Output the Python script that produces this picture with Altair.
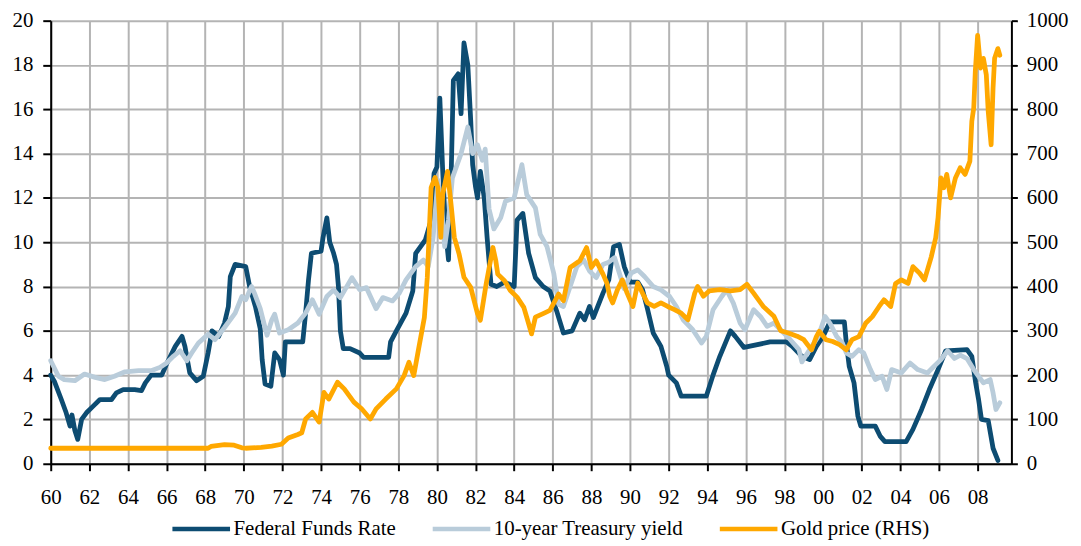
import altair as alt
import pandas as pd

# ---------------- data ----------------
ff_year = [1960.0, 1960.2, 1960.55, 1960.8, 1961.0, 1961.1, 1961.25, 1961.4, 1961.6, 1961.85,
           1962.2, 1962.55, 1963.15, 1963.4, 1963.75, 1964.35, 1964.7, 1964.9, 1965.2, 1965.75,
           1966.0, 1966.45, 1966.8, 1966.95, 1967.2, 1967.55, 1967.9, 1968.15, 1968.35, 1968.7,
           1969.0, 1969.2, 1969.3, 1969.55, 1970.1, 1970.3, 1970.6, 1970.85, 1970.95, 1971.1,
           1971.4, 1971.6, 1971.85, 1972.05, 1972.15, 1973.05, 1973.2, 1973.35, 1973.5, 1974.0,
           1974.1, 1974.3, 1974.45, 1974.65, 1974.8, 1974.9, 1975.0, 1975.15, 1975.5, 1976.0,
           1976.2, 1977.5, 1977.6, 1977.9, 1978.4, 1978.75, 1978.9, 1979.4, 1979.7, 1979.85,
           1980.0, 1980.15, 1980.3, 1980.45, 1980.6, 1980.75, 1980.85, 1981.1, 1981.25, 1981.4,
           1981.6, 1981.75, 1981.85, 1982.0, 1982.1, 1982.25, 1982.45, 1982.6, 1982.8, 1983.1,
           1983.5, 1984.0, 1984.15, 1984.45, 1984.75, 1985.1, 1985.5, 1985.85, 1986.2, 1986.55,
           1987.0, 1987.4, 1987.65, 1987.9, 1988.1, 1988.6, 1988.9, 1989.15, 1989.45, 1989.7,
           1990.0, 1990.4, 1990.65, 1990.9, 1991.2, 1991.6, 1991.9, 1992.0, 1992.4, 1992.65,
           1993.95, 1994.3, 1994.65, 1995.2, 1995.45, 1995.9, 1997.25, 1998.1, 1998.4, 1998.9,
           1999.3, 1999.65, 2000.0, 2000.35, 2001.1, 2001.2, 2001.35, 2001.6, 2001.8, 2001.95,
           2002.7, 2002.95, 2003.2, 2004.3, 2004.65, 2005.1, 2005.5, 2005.95, 2006.35, 2007.45,
           2007.7, 2007.9, 2008.05, 2008.2, 2008.55, 2008.8, 2009.05]
ff_rate = [4.0, 3.7, 2.9, 2.3, 1.7, 2.2, 1.5, 1.1, 2.0, 2.3,
           2.6, 2.9, 2.9, 3.2, 3.35, 3.35, 3.3, 3.65, 4.0, 4.0,
           4.5, 5.3, 5.75, 5.3, 4.1, 3.75, 3.95, 5.0, 6.0, 5.75,
           6.35, 7.1, 8.45, 9.0, 8.9, 8.0, 7.1, 6.1, 4.7, 3.6,
           3.5, 5.0, 4.7, 4.0, 5.5, 5.5, 6.8, 8.3, 9.5, 9.6,
           10.2, 11.1, 10.0, 9.5, 9.0, 8.0, 6.0, 5.2, 5.2, 5.0,
           4.8, 4.8, 5.5, 6.0, 6.8, 7.8, 9.5, 10.1, 11.0, 13.1,
           13.4, 16.5, 13.2, 10.5, 9.2, 13.5, 17.3, 17.6, 15.8, 19.0,
           18.0, 15.5, 13.5, 12.5, 12.0, 13.2, 12.0, 10.2, 8.1, 8.0,
           8.2, 8.0, 11.0, 11.3, 9.5, 8.4, 8.0, 7.8, 6.9, 5.9,
           6.0, 6.8, 6.5, 7.1, 6.6, 7.7, 8.3, 9.8, 9.9, 8.9,
           8.2, 8.2, 7.85, 7.0, 5.9, 5.3, 4.4, 4.0, 3.65, 3.05,
           3.05, 4.0, 4.85, 6.0, 5.75, 5.25, 5.5, 5.5, 5.3, 4.85,
           4.7, 5.3, 5.75, 6.4, 6.4, 5.45, 4.4, 3.65, 2.15, 1.7,
           1.7, 1.25, 1.0, 1.0, 1.55, 2.45, 3.35, 4.25, 5.1, 5.15,
           4.85, 3.65, 2.9, 2.0, 1.95, 0.7, 0.15]

ty_year = [1960.0, 1960.4, 1960.7, 1961.25, 1961.75, 1962.3, 1962.8, 1963.3, 1963.85, 1964.55,
           1965.2, 1965.65, 1966.0, 1966.35, 1966.7, 1967.05, 1967.3, 1967.65, 1968.15, 1968.5,
           1969.0, 1969.55, 1969.9, 1970.1, 1970.4, 1970.55, 1970.85, 1971.2, 1971.45, 1971.6,
           1971.85, 1972.3, 1972.8, 1973.2, 1973.55, 1973.9, 1974.3, 1974.65, 1975.0, 1975.6,
           1976.0, 1976.35, 1976.85, 1977.2, 1977.7, 1978.05, 1978.4, 1978.9, 1979.3, 1979.55,
           1979.8, 1980.05, 1980.25, 1980.4, 1980.6, 1980.8, 1981.25, 1981.6, 1981.85, 1982.1,
           1982.35, 1982.5, 1982.7, 1982.95, 1983.3, 1983.55, 1984.0, 1984.4, 1984.65, 1985.1,
           1985.35, 1985.7, 1986.05, 1986.3, 1986.55, 1986.9, 1987.25, 1987.6, 1987.9, 1988.25,
           1988.6, 1988.9, 1989.2, 1989.45, 1989.7, 1990.05, 1990.4, 1990.75, 1991.2, 1991.6,
           1992.05, 1992.4, 1992.75, 1993.25, 1993.7, 1993.95, 1994.3, 1994.75, 1995.0, 1995.35,
           1995.7, 1995.95, 1996.4, 1996.75, 1997.1, 1997.45, 1997.8, 1998.3, 1998.75, 1998.9,
           1999.3, 1999.75, 2000.1, 2000.35, 2000.7, 2001.0, 2001.2, 2001.5, 2001.85, 2002.1,
           2002.45, 2002.7, 2003.05, 2003.3, 2003.55, 2004.05, 2004.5, 2004.9, 2005.4, 2005.75,
           2006.1, 2006.45, 2006.8, 2007.1, 2007.45, 2007.8, 2008.05, 2008.3, 2008.65, 2008.8,
           2008.95, 2009.15]
ty_yield = [4.65, 3.95, 3.8, 3.75, 4.05, 3.9, 3.8, 3.95, 4.15, 4.2,
            4.2, 4.35, 4.55, 4.85, 5.1, 4.65, 5.0, 5.45, 5.85, 5.6,
            6.15, 6.8, 7.55, 7.4, 8.0, 7.7, 7.0, 5.8, 6.5, 6.75,
            5.9, 6.05, 6.35, 6.8, 7.4, 6.75, 7.55, 7.85, 7.5, 8.4,
            7.85, 7.95, 7.0, 7.5, 7.35, 7.7, 8.3, 8.9, 9.2, 8.9,
            10.2, 12.8, 11.5, 9.8, 11.0, 12.9, 14.0, 15.2, 14.0, 14.4,
            13.7, 14.2, 11.5, 10.6, 11.1, 11.85, 12.0, 13.5, 12.15, 11.55,
            10.35, 9.8, 8.6, 7.2, 7.1, 8.0, 8.9, 9.2, 8.7, 8.4,
            9.0, 9.1, 9.3, 8.6, 7.9, 8.6, 8.75, 8.45, 8.0, 7.85,
            7.55, 7.1, 6.5, 6.05, 5.45, 5.75, 6.95, 7.55, 7.85, 7.25,
            6.35, 6.05, 6.95, 6.65, 6.2, 6.35, 6.05, 5.6, 5.15, 4.6,
            5.15, 5.75, 6.65, 6.35, 5.75, 5.45, 5.0, 4.85, 5.15, 5.0,
            4.25, 3.8, 3.95, 3.35, 4.25, 4.1, 4.55, 4.25, 4.1, 4.4,
            4.7, 5.1, 4.75, 4.9, 4.75, 4.25, 3.95, 3.65, 3.8, 3.2,
            2.45, 2.75]

gold_year = [1960.0, 1968.15, 1968.3, 1968.6, 1969.0, 1969.5, 1969.9, 1970.1, 1970.9, 1971.45,
             1971.95, 1972.3, 1972.8, 1973.0, 1973.2, 1973.55, 1973.9, 1974.15, 1974.4, 1974.85,
             1975.2, 1975.7, 1976.1, 1976.55, 1976.85, 1977.35, 1977.9, 1978.3, 1978.55, 1978.8,
             1979.05, 1979.35, 1979.5, 1979.7, 1979.9, 1980.05, 1980.2, 1980.3, 1980.55, 1980.75,
             1980.9, 1981.15, 1981.4, 1981.75, 1982.1, 1982.25, 1982.55, 1982.9, 1983.05, 1983.15,
             1983.5, 1983.8, 1984.15, 1984.5, 1984.75, 1984.9, 1985.1, 1985.5, 1985.85, 1986.3,
             1986.55, 1986.9, 1987.4, 1987.75, 1988.0, 1988.25, 1988.6, 1988.8, 1988.95, 1989.1,
             1989.35, 1989.6, 1989.85, 1990.15, 1990.4, 1990.65, 1990.9, 1991.25, 1991.6, 1991.95,
             1992.3, 1992.65, 1993.0, 1993.35, 1993.5, 1993.8, 1994.1, 1994.65, 1995.2, 1995.7,
             1996.05, 1996.4, 1996.9, 1997.45, 1997.8, 1998.2, 1998.65, 1999.0, 1999.4, 1999.65,
             1999.8, 2000.15, 2000.5, 2000.85, 2001.2, 2001.5, 2001.85, 2002.2, 2002.55, 2002.9,
             2003.15, 2003.5, 2003.75, 2004.05, 2004.4, 2004.65, 2005.0, 2005.25, 2005.6, 2005.83,
             2005.95, 2006.1, 2006.25, 2006.4, 2006.6, 2006.85, 2007.1, 2007.35, 2007.6, 2007.7,
             2007.8, 2007.88, 2008.0, 2008.15, 2008.3, 2008.45, 2008.55, 2008.7, 2008.8, 2008.88,
             2009.05, 2009.15]
gold_price = [35, 35, 39, 41, 43, 42, 36, 35, 37, 40,
              44, 58, 66, 70, 101, 116, 94, 161, 146, 184,
              169, 139, 124, 101, 124, 146, 169, 199, 229, 199,
              259, 330, 420, 623, 646, 623, 511, 608, 660, 578,
              511, 473, 421, 398, 339, 324, 406, 488, 458, 428,
              413, 391, 376, 353, 316, 293, 331, 339, 346, 383,
              368, 443, 458, 488, 443, 458, 428, 408, 378, 363,
              393, 415, 385, 355, 408, 385, 363, 355, 363, 355,
              348, 340, 325, 385, 400, 378, 390, 393, 390, 393,
              405, 385, 355, 333, 300, 295, 288, 280, 257, 287,
              299, 280, 276, 269, 257, 280, 287, 317, 332, 355,
              370, 355, 407, 415, 407, 445, 430, 415, 467, 510,
              555, 645, 623, 653, 600, 645, 668, 653, 683, 773,
              803, 885, 967, 893, 915, 878, 795, 720, 848, 915,
              937, 922]

series_names = ["Federal Funds Rate", "10-year Treasury yield", "Gold price (RHS)"]
series_colors = ["#0D4C72", "#B9CCDA", "#FFA800"]
x_ticks = list(range(1960, 2009, 2))
left_ticks = list(range(0, 21, 2))
right_ticks = list(range(0, 1001, 100))

df_ff = pd.DataFrame({"year": ff_year, "value": ff_rate, "series": series_names[0]})
df_ty = pd.DataFrame({"year": ty_year, "value": ty_yield, "series": series_names[1]})
df_gold = pd.DataFrame({"year": gold_year, "value": gold_price, "series": series_names[2]})

FONT = "Liberation Serif"
GRID = "#B4B4B4"

color = alt.Color(
    "series:N",
    scale=alt.Scale(domain=series_names, range=series_colors),
    legend=alt.Legend(
        title=None, orient="none", direction="horizontal",
        legendX=120, legendY=480,
        symbolType="stroke", symbolSize=3364, symbolStrokeWidth=4.5,
        labelFont=FONT, labelFontSize=21, labelColor="black", labelLimit=0,
        labelOffset=1, columnPadding=27, padding=0,
    ),
)

x_scale = alt.Scale(domain=[1960, 2009.75], nice=False, zero=False)
x_axis = alt.Axis(
    values=x_ticks, labelExpr="substring(toString(datum.value), 2, 4)", title=None,
    grid=True, gridColor=GRID, gridWidth=2,
    domainColor="black", domainWidth=2, tickColor="black", tickWidth=2, tickSize=7,
    labelFont=FONT, labelFontSize=21, labelColor="black", labelPadding=16,
    labelFlush=False, labelOverlap=False,
)
x_enc = alt.X("year:Q", scale=x_scale, axis=x_axis)

left_scale = alt.Scale(domain=[0, 20], nice=False)
left_axis = alt.Axis(
    values=left_ticks, title=None, orient="left",
    grid=True, gridColor=GRID, gridWidth=2,
    domainColor="black", domainWidth=2, tickColor="black", tickWidth=2, tickSize=8,
    labelFont=FONT, labelFontSize=21, labelColor="black", labelPadding=10,
    labelFlush=False, labelOverlap=False,
)
right_axis = alt.Axis(
    values=right_ticks, title=None, orient="right", grid=False, format="d",
    domainColor="black", domainWidth=2, tickColor="black", tickWidth=2, tickSize=6,
    labelFont=FONT, labelFontSize=21, labelColor="black", labelPadding=9,
    labelFlush=False, labelOverlap=False,
)

line_style = dict(strokeWidth=4.8, strokeJoin="round", strokeCap="round")
y_left = alt.Y("value:Q", scale=left_scale, axis=left_axis)

ff_line = alt.Chart(df_ff).mark_line(**line_style).encode(x=x_enc, y=y_left, color=color)
ty_line = alt.Chart(df_ty).mark_line(**line_style).encode(x=x_enc, y=y_left, color=color)
gold_line = alt.Chart(df_gold).mark_line(**line_style).encode(
    x=x_enc,
    y=alt.Y("value:Q", scale=alt.Scale(domain=[0, 1000], nice=False), axis=right_axis),
    color=color)

left = alt.layer(ff_line, ty_line)
chart = alt.layer(left, gold_line).resolve_scale(y="independent").properties(
    width=967, height=446,
    autosize=alt.AutoSizeParams(type="none"),
    padding={"left": 43, "top": 11, "right": 62, "bottom": 77},
    background="white",
).configure_view(stroke=None)

chart.save("out.html", embed_options={"renderer": "svg", "actions": False})
